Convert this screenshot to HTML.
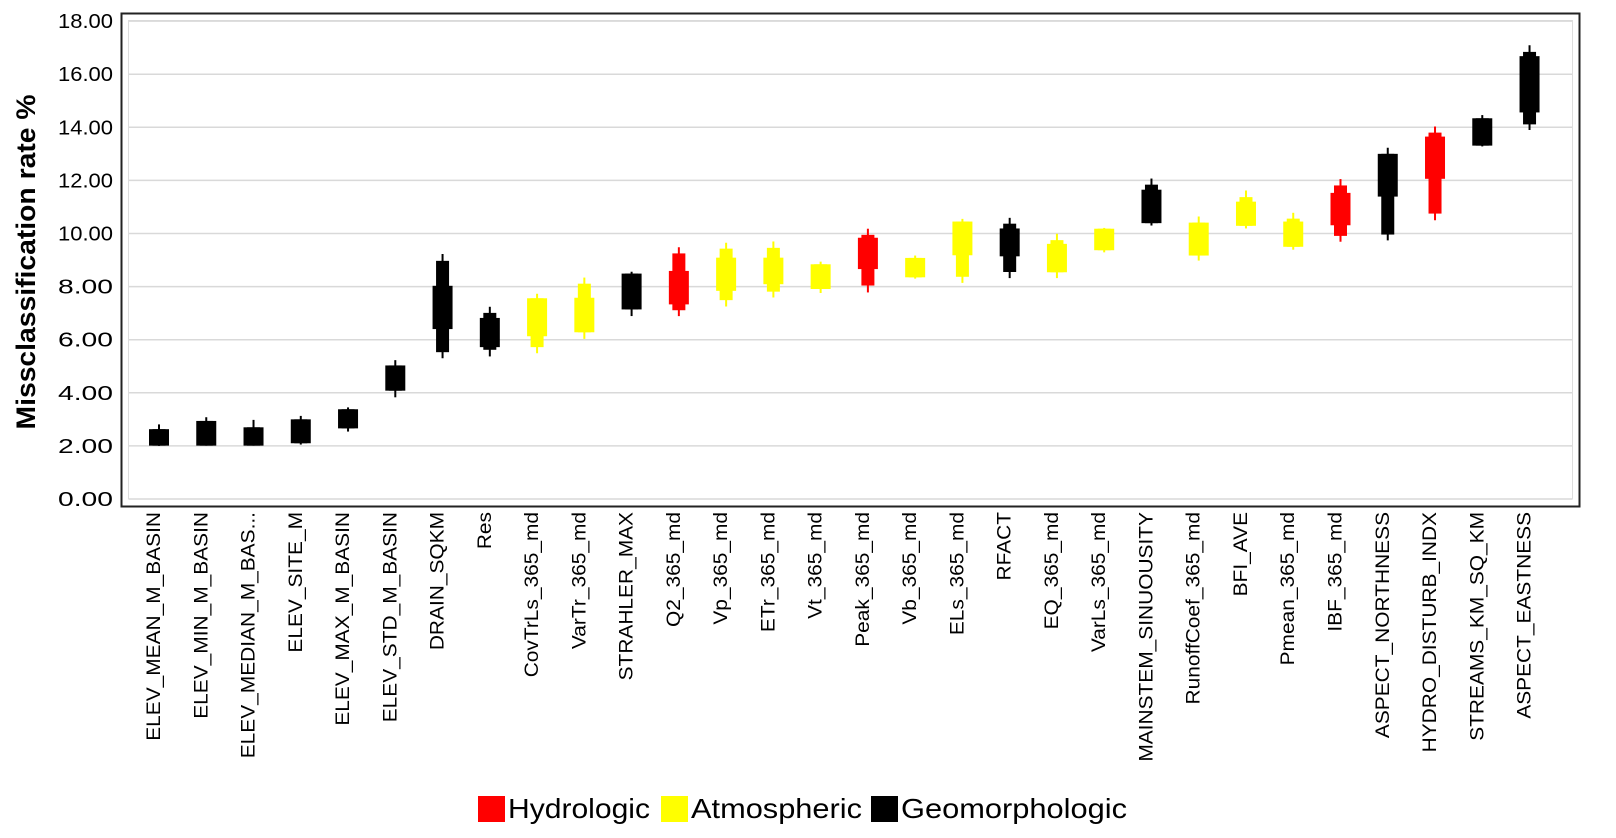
<!DOCTYPE html>
<html><head><meta charset="utf-8"><style>
html,body{margin:0;padding:0;background:#fff;width:1616px;height:838px;overflow:hidden}
svg text{font-family:"Liberation Sans",sans-serif}
</style></head><body>
<svg id="chart" width="1616" height="838" xmlns="http://www.w3.org/2000/svg">
<rect x="121.5" y="13.5" width="1458" height="493" fill="#fff" stroke="#222" stroke-width="2"/>
<rect x="128.5" y="20.5" width="1444" height="478.5" fill="none" stroke="#ddd" stroke-width="1"/>
<g id="grid"></g>
<g id="yticks"></g>
<g id="marks"></g>
<g id="xlabels"></g>
<text transform="translate(35,262) rotate(-90)" text-anchor="middle" font-size="27" font-weight="bold" fill="#000" textLength="335" lengthAdjust="spacingAndGlyphs">Missclassification  rate %</text>
<g>
 <g><rect x="478" y="796" width="27" height="26" fill="#ff0000"/><text x="508" y="818" font-size="28" textLength="142" lengthAdjust="spacingAndGlyphs">Hydrologic</text></g>
 <g><rect x="661" y="796" width="27" height="26" fill="#ffff00"/><text x="691" y="818" font-size="28" textLength="171" lengthAdjust="spacingAndGlyphs">Atmospheric</text></g>
 <g><rect x="871" y="796" width="27" height="26" fill="#000"/><text x="901" y="818" font-size="28" textLength="226" lengthAdjust="spacingAndGlyphs">Geomorphologic</text></g>
</g>
</svg>
<script>
const categories=["ELEV_MEAN_M_BASIN","ELEV_MIN_M_BASIN","ELEV_MEDIAN_M_BAS...","ELEV_SITE_M","ELEV_MAX_M_BASIN","ELEV_STD_M_BASIN","DRAIN_SQKM","Res","CovTrLs_365_md","VarTr_365_md","STRAHLER_MAX","Q2_365_md","Vp_365_md","ETr_365_md","Vt_365_md","Peak_365_md","Vb_365_md","ELs_365_md","RFACT","EQ_365_md","VarLs_365_md","MAINSTEM_SINUOUSITY","RunoffCoef_365_md","BFI_AVE","Pmean_365_md","IBF_365_md","ASPECT_NORTHNESS","HYDRO_DISTURB_INDX","STREAMS_KM_SQ_KM","ASPECT_EASTNESS"];
const groups=["G","G","G","G","G","G","G","G","A","A","G","H","A","A","A","H","A","A","G","A","A","G","A","A","A","H","G","H","G","G"];
const minVals=[2.0,2.01,2.01,2.05,2.54,3.83,5.3,5.37,5.49,6.03,6.89,6.89,7.25,7.59,7.76,7.78,8.3,8.14,8.32,8.32,9.29,10.3,8.98,10.19,9.39,9.69,9.74,10.5,13.28,13.9];
const lowVals=[2.01,2.01,2.01,2.1,2.66,4.08,5.53,5.62,5.72,6.28,7.14,7.11,7.49,7.81,7.91,8.04,8.35,8.37,8.55,8.54,9.37,10.39,9.17,10.29,9.5,9.91,9.96,10.75,13.31,14.11];
const q1Vals=[2.01,2.01,2.01,2.1,2.66,4.08,6.4,5.72,6.13,6.28,7.14,7.33,7.84,8.09,7.91,8.66,8.35,9.18,9.14,8.54,9.37,10.39,9.17,10.29,9.5,10.31,11.39,12.06,13.31,14.56];
const q3Vals=[2.63,2.94,2.7,3.0,3.38,5.03,8.03,6.82,7.56,7.58,8.49,8.59,9.09,9.09,8.84,9.84,9.08,10.45,10.19,9.61,10.18,11.65,10.41,11.2,10.45,11.53,13.0,13.65,14.34,16.68];
const highVals=[2.63,2.94,2.7,3.0,3.38,5.03,8.97,7.01,7.56,8.11,8.49,9.25,9.43,9.46,8.84,9.95,9.08,10.45,10.37,9.75,10.18,11.84,10.41,11.37,10.56,11.81,13.0,13.8,14.34,16.84];
const maxVals=[2.81,3.08,2.98,3.13,3.45,5.23,9.23,7.24,7.73,8.34,8.56,9.48,9.65,9.7,8.94,10.18,9.17,10.55,10.59,9.99,10.21,12.07,10.64,11.62,10.78,12.05,13.23,14.03,14.46,17.09];
const yTicks=[0,2,4,6,8,10,12,14,16,18];
const colors={H:"#ff0000",A:"#ffff00",G:"#000000"};
const NS="http://www.w3.org/2000/svg";
function y(v){return 499-v*26.55;}
function x(i){return 159+i*47.26;}
function mk(tag,attrs,parent){const e=document.createElementNS(NS,tag);for(const k in attrs)e.setAttribute(k,attrs[k]);parent.appendChild(e);return e;}
const grid=document.getElementById('grid'),yt=document.getElementById('yticks'),marks=document.getElementById('marks'),xl=document.getElementById('xlabels');
yTicks.forEach(t=>{
 const l=mk('line',{x1:129,x2:1572,y1:y(t),y2:y(t),stroke:'#d9d9d9','stroke-width':1.5},grid);
 
 
 const tx=mk('text',{x:113,y:y(t)+7,'text-anchor':'end','font-size':20,fill:'#000',textLength:55,lengthAdjust:'spacingAndGlyphs'},yt);
 tx.textContent=t.toFixed(2);
 
 
});
categories.forEach((c,i)=>{
 const g=mk('g',{},marks);
 
 
 const col=colors[groups[i]],cx=x(i);
 mk('line',{x1:cx,x2:cx,y1:y(maxVals[i]),y2:y(minVals[i]),stroke:col,'stroke-width':2},g);
 mk('rect',{x:cx-6.5,y:y(highVals[i]),width:13,height:y(lowVals[i])-y(highVals[i]),fill:col},g);
 mk('rect',{x:cx-10,y:y(q3Vals[i]),width:20,height:y(q1Vals[i])-y(q3Vals[i]),fill:col},g);
 const t=mk('text',{transform:`translate(${cx+1},512) rotate(-90)`,'text-anchor':'end','font-size':19,fill:'#000'},xl);
 t.textContent=c;
 
 
 const len=t.getComputedTextLength();
 t.setAttribute('textLength',(len*1.1).toFixed(1));
 t.setAttribute('lengthAdjust','spacingAndGlyphs');
});
</script>
</body></html>
